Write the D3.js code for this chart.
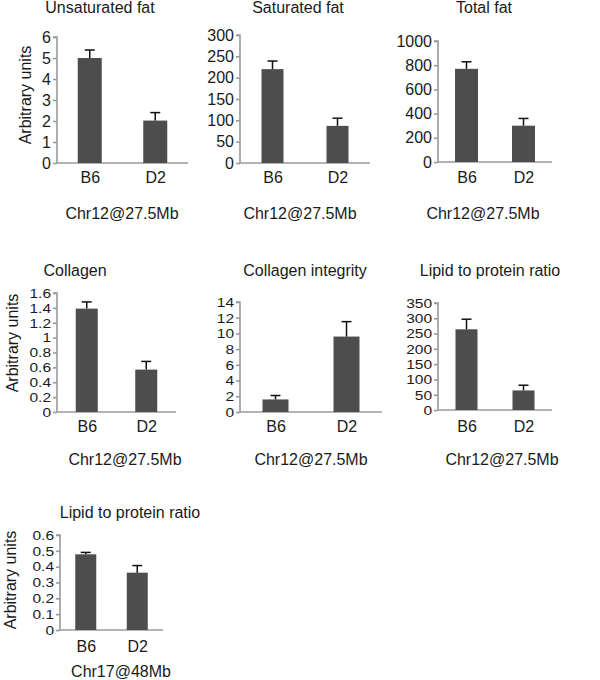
<!DOCTYPE html>
<html><head><meta charset="utf-8">
<script src="https://cdn.jsdelivr.net/npm/d3@7"></script>
<style>
body{margin:0;background:#fff;}
text{font-family:"Liberation Sans",Arial,sans-serif;}
</style></head>
<body><svg id="c" width="600" height="680"></svg>
<script>
// ---- data ----
const categories = ["B6", "D2"];
const titles = ["Unsaturated fat", "Saturated fat", "Total fat", "Collagen", "Collagen integrity", "Lipid to protein ratio", "Lipid to protein ratio"];
const locusLabels = ["Chr12@27.5Mb", "Chr12@27.5Mb", "Chr12@27.5Mb", "Chr12@27.5Mb", "Chr12@27.5Mb", "Chr12@27.5Mb", "Chr17@48Mb"];
const unsatMean = [5.0, 2.02], unsatErr = [0.38, 0.38];
const satMean = [220, 87], satErr = [19, 18];
const totalMean = [770, 300], totalErr = [58, 60];
const collagenMean = [1.39, 0.57], collagenErr = [0.09, 0.11];
const integrityMean = [1.6, 9.6], integrityErr = [0.5, 1.9];
const lipid12Mean = [264, 64], lipid12Err = [33, 17];
const lipid17Mean = [0.478, 0.362], lipid17Err = [0.012, 0.045];
const ticksUnsat = [0,1,2,3,4,5,6];
const ticksSat = [0,50,100,150,200,250,300];
const ticksTotal = [0,200,400,600,800,1000];
const ticksCollagen = [0,0.2,0.4,0.6,0.8,1,1.2,1.4,1.6];
const ticksIntegrity = [0,2,4,6,8,10,12,14];
const ticksLipid12 = [0,50,100,150,200,250,300,350];
const ticksLipid17 = [0,0.1,0.2,0.3,0.4,0.5,0.6];
const yLabel = "Arbitrary units";

// ---- layout ----
const panels = [
  {mean: unsatMean, err: unsatErr, ticks: ticksUnsat, x0: 57, x1: 188, yTop: 37, yBase: 163, bw: 24, tf: 16, title:[100, 13], loc:[122, 219], cat: 183, ylab:[25, 95]},
  {mean: satMean, err: satErr, ticks: ticksSat, x0: 240, x1: 370, yTop: 35, yBase: 163, bw: 22, tf: 16, title:[298, 13], loc:[300, 219], cat: 183},
  {mean: totalMean, err: totalErr, ticks: ticksTotal, x0: 438, x1: 552, yTop: 41, yBase: 162, bw: 23, tf: 16, title:[484, 13], loc:[483, 219], cat: 183},
  {mean: collagenMean, err: collagenErr, ticks: ticksCollagen, x0: 57, x1: 176, yTop: 293, yBase: 412, bw: 22, tf: 13.5, title:[75, 276], loc:[125, 465], cat: 432, ylab:[12, 343]},
  {mean: integrityMean, err: integrityErr, ticks: ticksIntegrity, x0: 240, x1: 382, yTop: 302, yBase: 412, bw: 26, tf: 13.5, title:[305, 276], loc:[311, 465], cat: 432},
  {mean: lipid12Mean, err: lipid12Err, ticks: ticksLipid12, x0: 438, x1: 552, yTop: 303, yBase: 410, bw: 22, tf: 13.5, title:[490, 276], loc:[502, 465], cat: 432},
  {mean: lipid17Mean, err: lipid17Err, ticks: ticksLipid17, x0: 60, x1: 163, yTop: 535, yBase: 630, bw: 21, tf: 13.5, title:[130, 518], loc:[121, 677], cat: 652, ylab:[10, 580]}
];

const svg = d3.select("#c");
const txt = "#1a1a1a", axisCol = "#9a9a9a", barCol = "#4d4d4d";
const ff = "'Liberation Sans',Arial,sans-serif";

panels.forEach((p, i) => {
  const g = svg.append("g");
  const y = d3.scaleLinear().domain([0, d3.max(p.ticks)]).range([p.yBase, p.yTop]);
  const x = d3.scalePoint().domain(categories).range([p.x0, p.x1]).padding(0.5);
  const bw = p.bw;

  // y axis
  const ya = g.append("g").attr("transform", `translate(${p.x0},0)`)
    .call(d3.axisLeft(y).tickValues(p.ticks).tickSize(4).tickPadding(2).tickFormat(d3.format("~g")));
  ya.select(".domain").attr("stroke", axisCol).attr("stroke-width", 1.6).attr("d", `M-4,${p.yTop}H0V${p.yBase}`);
  ya.selectAll(".tick line").attr("stroke", axisCol).attr("stroke-width", 1.6);
  const sx = 16 / p.tf * (p.tf < 16 ? 0.97 : 1);
  ya.selectAll(".tick text").attr("fill", txt).style("font-size", p.tf + "px").style("font-family", ff)
    .attr("x", -6 / sx).attr("transform", `scale(${sx},1)`);

  // x axis
  const xa = g.append("g").attr("transform", `translate(0,${p.yBase})`)
    .call(d3.axisBottom(x).tickSize(0).tickPadding(0));
  xa.select(".domain").attr("stroke", axisCol).attr("stroke-width", 1.6).attr("d", `M${p.x0},0H${p.x1}`);
  xa.selectAll(".tick text").attr("fill", txt).attr("y", p.cat - p.yBase).attr("dy", 0)
    .style("font-size", "16px").style("font-family", ff);

  // bars
  g.selectAll("rect.bar").data(categories).join("rect").attr("class", "bar")
    .attr("x", d => x(d) - bw / 2).attr("width", bw)
    .attr("y", (d, j) => y(p.mean[j])).attr("height", (d, j) => p.yBase - y(p.mean[j]))
    .attr("fill", barCol);

  // error bars (upper only)
  const eb = g.selectAll("g.err").data(categories).join("g").attr("class", "err");
  eb.append("line").attr("x1", d => x(d)).attr("x2", d => x(d))
    .attr("y1", (d, j) => y(p.mean[j])).attr("y2", (d, j) => y(p.mean[j] + p.err[j]))
    .attr("stroke", "#111").attr("stroke-width", 1.5);
  eb.append("line").attr("x1", d => x(d) - 5).attr("x2", d => x(d) + 5)
    .attr("y1", (d, j) => y(p.mean[j] + p.err[j])).attr("y2", (d, j) => y(p.mean[j] + p.err[j]))
    .attr("stroke", "#111").attr("stroke-width", 1.5);

  // title
  g.append("text").attr("x", p.title[0]).attr("y", p.title[1]).attr("text-anchor", "middle")
    .attr("fill", txt).style("font-size", "16px").text(titles[i]);
  // locus
  g.append("text").attr("x", p.loc[0]).attr("y", p.loc[1]).attr("text-anchor", "middle")
    .attr("fill", txt).style("font-size", "16px").text(locusLabels[i]);
  // y label
  if (p.ylab) {
    g.append("text").attr("transform", `translate(${p.ylab[0] + 6},${p.ylab[1]}) rotate(-90)`)
      .attr("text-anchor", "middle").attr("fill", txt).style("font-size", "16px").text(yLabel);
  }
});
</script></body></html>
